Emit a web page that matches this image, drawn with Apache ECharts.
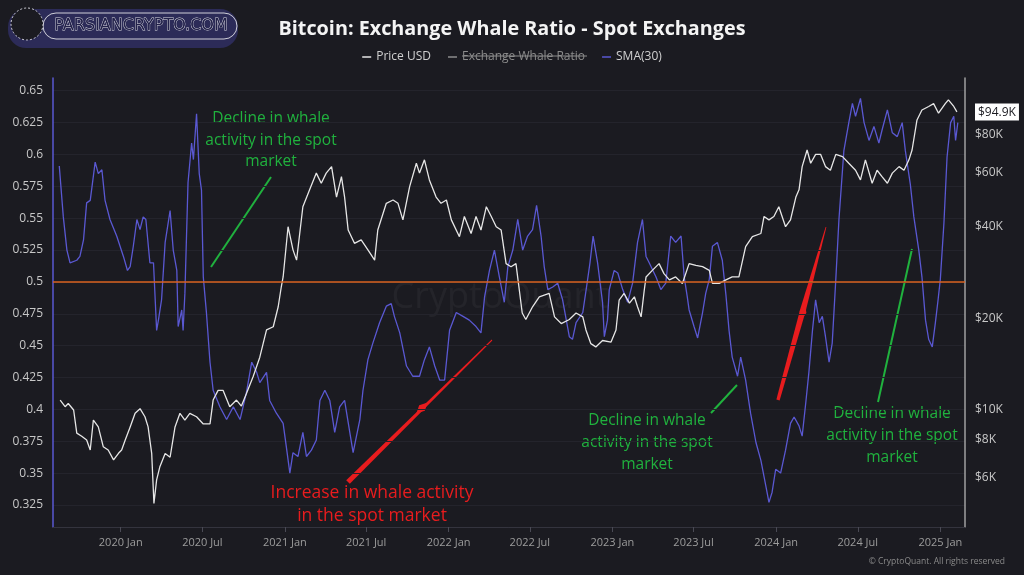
<!DOCTYPE html>
<html>
<head>
<meta charset="utf-8">
<title>Bitcoin: Exchange Whale Ratio - Spot Exchanges</title>
<script src="https://cdn.jsdelivr.net/npm/echarts@6/dist/echarts.min.js"></script>
<style>
  html, body { margin: 0; padding: 0; background: #1b1b21; }
  #chart { width: 1024px; height: 575px; }
</style>
</head>
<body>
<div id="chart"></div>
<script>
// Price USD (white line, right log axis)
const priceDates = [
  '2019-08-19','2019-08-30','2019-09-06','2019-09-18','2019-09-25','2019-10-06','2019-10-17','2019-10-25','2019-11-01','2019-11-12',
  '2019-11-23','2019-12-04','2019-12-16','2019-12-27','2020-01-03','2020-01-11','2020-01-22','2020-02-02','2020-02-13','2020-02-24',
  '2020-03-02','2020-03-10','2020-03-15','2020-03-21','2020-03-28','2020-04-09','2020-04-20','2020-05-01','2020-05-12','2020-05-23',
  '2020-06-03','2020-06-18','2020-07-03','2020-07-18','2020-07-25','2020-08-05','2020-08-16','2020-08-31','2020-09-15','2020-09-26',
  '2020-10-07','2020-10-22','2020-11-06','2020-11-21','2020-12-06','2020-12-17','2020-12-24','2020-12-28','2021-01-08','2021-01-19',
  '2021-01-27','2021-02-10','2021-02-25','2021-03-12','2021-03-23','2021-04-03','2021-04-15','2021-04-26','2021-05-07','2021-05-14',
  '2021-05-22','2021-06-05','2021-06-20','2021-07-05','2021-07-20','2021-07-27','2021-08-15','2021-08-30','2021-09-10','2021-09-21',
  '2021-10-06','2021-10-21','2021-10-28','2021-11-08','2021-11-19','2021-12-04','2021-12-15','2021-12-27','2022-01-07','2022-01-25',
  '2022-02-05','2022-02-20','2022-03-03','2022-03-14','2022-03-26','2022-04-06','2022-04-17','2022-04-28','2022-05-09','2022-05-20',
  '2022-05-31','2022-06-14','2022-06-22','2022-07-07','2022-07-22','2022-08-13','2022-08-25','2022-09-09','2022-09-27','2022-10-12',
  '2022-10-27','2022-11-03','2022-11-14','2022-11-25','2022-12-10','2022-12-29','2023-01-09','2023-01-16','2023-01-27','2023-02-08',
  '2023-02-19','2023-02-26','2023-03-06','2023-03-13','2023-03-17','2023-03-31','2023-04-15','2023-04-26','2023-05-08','2023-05-22',
  '2023-06-06','2023-06-21','2023-07-06','2023-07-21','2023-08-05','2023-08-12','2023-08-27','2023-09-11','2023-09-25','2023-10-10',
  '2023-10-25','2023-11-09','2023-11-28','2023-12-05','2023-12-16','2023-12-27','2024-01-07','2024-01-22','2024-02-02','2024-02-14',
  '2024-02-21','2024-02-28','2024-03-10','2024-03-18','2024-03-29','2024-04-09','2024-04-20','2024-05-01','2024-05-13','2024-05-28',
  '2024-06-11','2024-06-26','2024-07-07','2024-07-18','2024-08-02','2024-08-13','2024-08-24','2024-09-05','2024-09-16','2024-10-01',
  '2024-10-12','2024-10-23','2024-10-30','2024-11-10','2024-11-21','2024-12-06','2024-12-17','2024-12-28','2025-01-12','2025-01-19',
  '2025-01-31','2025-02-07'
];
const priceValues = [
  10780, 10250, 10500, 10000, 8400, 8200, 7970, 7390, 9270, 8800,
  7580, 7390, 6860, 7210, 7390, 7970, 8800, 9750, 10100, 9500,
  8800, 7210, 4940, 5900, 6500, 7200, 7000, 8800, 9750, 9270,
  9750, 9500, 9000, 9000, 10780, 11600, 11600, 10250, 10780, 10300,
  11300, 12850, 14900, 18300, 18750, 21800, 25400, 27300, 39900, 33500,
  31000, 46400, 52700, 59800, 55400, 59800, 62800, 49900, 58200, 49900,
  38900, 35200, 36100, 33500, 31000, 38900, 47600, 48800, 47600, 42000,
  54000, 64400, 59800, 66100, 56800, 49900, 47600, 48800, 42000, 37000,
  43100, 37900, 43100, 38900, 46400, 43100, 39900, 38900, 30200, 29500,
  30200, 20800, 19800, 21800, 23500, 24100, 20200, 19200, 19800, 20800,
  20200, 18300, 16500, 16100, 16900, 16700, 18300, 22900, 24100, 22400,
  23500, 21800, 20200, 24700, 27300, 28700, 30200, 28000, 26700, 27300,
  26000, 30200, 29800, 29500, 28700, 26000, 26000, 26700, 27300, 27300,
  34300, 37000, 37900, 43100, 42000, 43100, 46400, 39900, 42000, 49900,
  52700, 62800, 71200, 64400, 68900, 68900, 62800, 61100, 68900, 67700,
  64400, 61100, 56800, 66100, 55400, 61100, 58200, 55400, 59800, 62800,
  61100, 66100, 71200, 89300, 96300, 98900, 101000, 94000, 101000, 104000,
  98900, 94900
];

// SMA(30) of the exchange whale ratio (blue line, left axis)
const smaDates = [
  '2019-08-17','2019-08-26','2019-09-03','2019-09-10','2019-09-25','2019-10-02','2019-10-10','2019-10-17','2019-10-25','2019-11-05',
  '2019-11-12','2019-11-20','2019-11-27','2019-12-08','2019-12-23','2020-01-07','2020-01-16','2020-01-22','2020-01-29','2020-02-06',
  '2020-02-13','2020-02-20','2020-02-26','2020-03-06','2020-03-14','2020-03-21','2020-03-25','2020-04-01','2020-04-09','2020-04-20',
  '2020-04-27','2020-05-05','2020-05-08','2020-05-16','2020-05-19','2020-05-23','2020-05-30','2020-06-07','2020-06-11','2020-06-18',
  '2020-06-24','2020-06-29','2020-07-03','2020-07-10','2020-07-18','2020-07-25','2020-08-09','2020-08-24','2020-09-08','2020-09-23',
  '2020-10-07','2020-10-19','2020-10-30','2020-11-06','2020-11-21','2020-11-28','2020-12-13','2020-12-28','2021-01-04','2021-01-12',
  '2021-01-19','2021-01-30','2021-02-10','2021-02-18','2021-03-01','2021-03-12','2021-03-20','2021-03-31','2021-04-11','2021-04-22',
  '2021-05-03','2021-05-14','2021-06-02','2021-06-17','2021-06-24','2021-07-05','2021-07-16','2021-07-31','2021-08-15','2021-08-26',
  '2021-09-02','2021-09-14','2021-09-29','2021-10-13','2021-10-28','2021-11-08','2021-11-19','2021-12-01','2021-12-12','2021-12-23',
  '2022-01-03','2022-01-18','2022-02-02','2022-02-16','2022-03-03','2022-03-14','2022-03-22','2022-04-02','2022-04-13','2022-04-24',
  '2022-05-05','2022-05-13','2022-05-24','2022-06-04','2022-06-15','2022-06-26','2022-07-07','2022-07-16','2022-07-26','2022-08-02',
  '2022-08-10','2022-08-21','2022-09-01','2022-09-12','2022-09-27','2022-10-04','2022-10-12','2022-10-27','2022-11-06','2022-11-12',
  '2022-11-19','2022-11-29','2022-12-10','2022-12-14','2022-12-21','2022-12-25','2023-01-05','2023-01-13','2023-01-24','2023-02-04',
  '2023-02-15','2023-02-26','2023-03-09','2023-03-17','2023-03-24','2023-04-08','2023-04-19','2023-04-30','2023-05-11','2023-05-22',
  '2023-06-03','2023-06-10','2023-06-17','2023-06-21','2023-07-02','2023-07-10','2023-07-21','2023-07-28','2023-08-05','2023-08-12',
  '2023-08-23','2023-09-03','2023-09-11','2023-09-18','2023-09-25','2023-10-07','2023-10-14','2023-10-25','2023-11-05','2023-11-17',
  '2023-11-28','2023-12-09','2023-12-16','2023-12-23','2023-12-31','2024-01-11','2024-01-22','2024-02-02','2024-02-10','2024-02-21',
  '2024-02-28','2024-03-07','2024-03-14','2024-03-22','2024-03-29','2024-04-06','2024-04-13','2024-04-20','2024-04-28','2024-05-05',
  '2024-05-13','2024-05-20','2024-05-31','2024-06-11','2024-06-19','2024-06-26','2024-07-07','2024-07-15','2024-07-26','2024-08-06',
  '2024-08-17','2024-08-24','2024-09-05','2024-09-16','2024-09-27','2024-10-08','2024-10-15','2024-10-26','2024-11-03','2024-11-14',
  '2024-11-21','2024-11-29','2024-12-06','2024-12-14','2024-12-21','2024-12-27','2025-01-01','2025-01-09','2025-01-16','2025-01-24',
  '2025-01-31','2025-02-04','2025-02-09'
];
const smaValues = [
  0.591, 0.551, 0.525, 0.515, 0.517, 0.520, 0.533, 0.562, 0.564, 0.594,
  0.585, 0.588, 0.564, 0.549, 0.536, 0.520, 0.509, 0.512, 0.528, 0.549,
  0.541, 0.551, 0.549, 0.515, 0.515, 0.462, 0.470, 0.486, 0.531, 0.556,
  0.525, 0.509, 0.465, 0.478, 0.462, 0.491, 0.578, 0.609, 0.596, 0.632,
  0.585, 0.572, 0.504, 0.476, 0.437, 0.415, 0.402, 0.392, 0.402, 0.392,
  0.413, 0.437, 0.429, 0.421, 0.429, 0.407, 0.397, 0.389, 0.371, 0.350,
  0.366, 0.363, 0.382, 0.363, 0.368, 0.376, 0.407, 0.415, 0.407, 0.382,
  0.402, 0.407, 0.366, 0.392, 0.415, 0.439, 0.452, 0.468, 0.481, 0.483,
  0.473, 0.460, 0.434, 0.426, 0.426, 0.439, 0.449, 0.434, 0.423, 0.423,
  0.462, 0.476, 0.473, 0.470, 0.465, 0.460, 0.488, 0.509, 0.525, 0.504,
  0.484, 0.512, 0.525, 0.549, 0.525, 0.536, 0.541, 0.560, 0.536, 0.512,
  0.494, 0.496, 0.499, 0.486, 0.457, 0.455, 0.468, 0.476, 0.500, 0.515,
  0.536, 0.515, 0.484, 0.457, 0.470, 0.494, 0.509, 0.507, 0.494, 0.484,
  0.499, 0.531, 0.549, 0.520, 0.515, 0.504, 0.494, 0.499, 0.536, 0.531,
  0.536, 0.504, 0.488, 0.478, 0.465, 0.456, 0.476, 0.491, 0.502, 0.528,
  0.531, 0.517, 0.490, 0.462, 0.441, 0.426, 0.441, 0.423, 0.397, 0.374,
  0.360, 0.340, 0.327, 0.335, 0.353, 0.350, 0.368, 0.389, 0.394, 0.387,
  0.379, 0.405, 0.429, 0.462, 0.486, 0.468, 0.473, 0.457, 0.437, 0.452,
  0.502, 0.549, 0.603, 0.625, 0.640, 0.630, 0.644, 0.625, 0.611, 0.622,
  0.609, 0.619, 0.635, 0.617, 0.614, 0.625, 0.603, 0.577, 0.551, 0.525,
  0.504, 0.470, 0.455, 0.449, 0.468, 0.486, 0.502, 0.546, 0.598, 0.625,
  0.630, 0.611, 0.625
];

const ratioTicks = [0.325, 0.35, 0.375, 0.4, 0.425, 0.45, 0.475, 0.5, 0.525, 0.55, 0.575, 0.6, 0.625, 0.65];
const priceTicks = [6000, 8000, 10000, 20000, 40000, 60000, 80000];
const lastPrice = 94900;
const timeTicks = ['2020-01-01','2020-07-01','2021-01-01','2021-07-01','2022-01-01','2022-07-01',
                   '2023-01-01','2023-07-01','2024-01-01','2024-07-01','2025-01-01'];
const baseline = 0.5;

const FONT = '"Open Sans", "Noto Sans", sans-serif';
const GREEN = '#20b23e';
const RED = '#e81c1e';

const chart = echarts.init(document.getElementById('chart'), null, { renderer: 'canvas' });

// dates go on a plain value axis as UTC timestamps
const ts = s => Date.parse(s + 'T00:00:00Z');
const zip = (xs, ys) => xs.map((x, i) => [ts(x), ys[i]]);
const timeTickValues = timeTicks.map(ts);
const MONTHS = ['Jan', 'Feb', 'Mar', 'Apr', 'May', 'Jun', 'Jul', 'Aug', 'Sep', 'Oct', 'Nov', 'Dec'];

const note = (x, y, text, lineHeight, size, color) => ({
  type: 'text', x: x, y: y, silent: true,
  style: { text: text, textAlign: 'center', lineHeight: lineHeight, font: size + 'px ' + FONT, fill: color }
});

const option = {
  backgroundColor: '#1b1b21',
  animation: false,
  textStyle: { fontFamily: FONT },
  title: {
    text: 'Bitcoin: Exchange Whale Ratio - Spot Exchanges',
    left: 'center',
    top: 14,
    textStyle: { color: '#f4f4f4', fontSize: 19.8, fontWeight: 'bold', fontFamily: FONT }
  },
  legend: {
    top: 46,
    left: 'center',
    data: ['Price USD', 'Exchange Whale Ratio', 'SMA(30)'],
    selected: { 'Exchange Whale Ratio': false },
    icon: 'rect',
    itemWidth: 9,
    itemHeight: 1.5,
    itemGap: 17,
    inactiveColor: '#8c8c8c',
    textStyle: { color: '#d0d0d0', fontSize: 12, fontFamily: FONT }
  },
  grid: { left: 53, right: 59, top: 78, bottom: 48 },
  xAxis: {
    type: 'value',
    min: ts('2019-08-03'),
    max: ts('2025-02-25'),
    axisLine: { lineStyle: { color: '#34343e', width: 1 } },
    axisTick: { show: true, length: 5, lineStyle: { color: '#4a4a55' }, customValues: timeTickValues },
    axisLabel: {
      customValues: timeTickValues,
      color: '#9c9c9c',
      fontSize: 11,
      margin: 10,
      formatter: function (v) {
        const d = new Date(v);
        return d.getUTCFullYear() + ' ' + MONTHS[d.getUTCMonth()];
      }
    },
    splitLine: { show: false }
  },
  yAxis: [
    {
      type: 'value',
      position: 'left',
      min: 0.3077,
      max: 0.66,
      axisLine: { show: true, lineStyle: { color: '#5a58d2', width: 1.5 } },
      axisTick: { show: false, customValues: ratioTicks },
      axisLabel: {
        customValues: ratioTicks,
        color: '#c8c8c8',
        fontSize: 12,
        margin: 10,
        formatter: v => String(v)
      },
      splitLine: { show: true, lineStyle: { color: '#24242c', width: 1 } }
    },
    {
      type: 'log',
      position: 'right',
      min: 4134,
      max: 122600,
      axisLine: { show: true, lineStyle: { color: '#a0a0a0', width: 1.5 } },
      axisTick: { show: false, customValues: priceTicks.concat([lastPrice]) },
      axisLabel: {
        customValues: priceTicks.concat([lastPrice]),
        color: '#c8c8c8',
        fontSize: 12,
        margin: 10,
        formatter: v => Math.abs(v - lastPrice) < 1
          ? '{hl|$' + (lastPrice / 1000).toFixed(1) + 'K}'
          : '$' + Math.round(v / 1000) + 'K',
        rich: {
          hl: { backgroundColor: '#ffffff', color: '#1b1b21', fontSize: 12, padding: [3, 3, 2, 3], fontFamily: FONT }
        }
      },
      splitLine: { show: false }
    }
  ],
  series: [
    {
      name: 'SMA(30)',
      type: 'line',
      yAxisIndex: 0,
      showSymbol: false,
      color: '#5a58d2',
      lineStyle: { color: '#5a58d2', width: 1.3 },
      data: zip(smaDates, smaValues),
      z: 2,
      markLine: {
        silent: true,
        symbol: 'none',
        label: { show: false },
        lineStyle: { color: '#d8621f', width: 1.6, type: 'solid' },
        data: [{ yAxis: baseline }]
      }
    },
    {
      name: 'Exchange Whale Ratio',
      type: 'line',
      yAxisIndex: 0,
      showSymbol: false,
      color: '#8c8c8c',
      data: []
    },
    {
      name: 'Price USD',
      type: 'line',
      yAxisIndex: 1,
      showSymbol: false,
      color: '#e6e6e6',
      lineStyle: { color: '#e6e6e6', width: 1.3 },
      data: zip(priceDates, priceValues),
      z: 3
    }
  ],
  graphic: [
    // site logo, top left
    { type: 'rect', shape: { x: 8, y: 9, width: 230, height: 39, r: 18 }, style: { fill: '#2c2b58' }, silent: true },
    { type: 'rect', shape: { x: 43, y: 13, width: 194, height: 26, r: 13 }, style: { fill: 'none', stroke: '#cfcfd8', lineWidth: 1 }, silent: true },
    { type: 'circle', shape: { cx: 27, cy: 24, r: 16 }, style: { fill: '#1b1b21', stroke: '#cfcfd8', lineWidth: 1, lineDash: [2, 2] }, silent: true },
    { type: 'text', x: 141, y: 26, silent: true,
      style: { text: 'PARSIANCRYPTO.COM', textAlign: 'center', textVerticalAlign: 'middle',
               font: '16px "DejaVu Sans", sans-serif', fill: '#23224a', stroke: '#d8d8e0', lineWidth: 0.8 } },
    // faint watermark
    { type: 'text', x: 500, y: 298, silent: true, z: -1,
      style: { text: 'CryptoQuant', textAlign: 'center', textVerticalAlign: 'middle',
               font: '36px ' + FONT, fill: 'rgba(255,255,255,0.045)' } },
    // strike-through on the disabled legend entry
    { type: 'line', shape: { x1: 462, y1: 56, x2: 587, y2: 56 }, style: { stroke: '#8c8c8c', lineWidth: 1 }, silent: true },
    // green notes and their pointers
    note(271, 108, 'Decline in whale\nactivity in the spot\nmarket', 21.5, 15.5, GREEN),
    { type: 'line', shape: { x1: 211, y1: 267, x2: 271, y2: 177 }, style: { stroke: GREEN, lineWidth: 2 }, silent: true },
    note(647, 410, 'Decline in whale\nactivity in the spot\nmarket', 22, 15.5, GREEN),
    { type: 'line', shape: { x1: 711, y1: 413, x2: 737, y2: 385 }, style: { stroke: GREEN, lineWidth: 2 }, silent: true },
    note(892, 403, 'Decline in whale\nactivity in the spot\nmarket', 22, 15.5, GREEN),
    { type: 'line', shape: { x1: 878, y1: 402, x2: 912, y2: 249 }, style: { stroke: GREEN, lineWidth: 2 }, silent: true },
    // red note and the two hand-drawn arrows
    note(372, 482, 'Increase in whale activity\nin the spot market', 23, 17.5, RED),
    { type: 'polygon', silent: true, style: { fill: RED },
      shape: { points: [[346.2, 480.2], [491.7, 339.6], [492.3, 340.4], [349.8, 483.8]] } },
    { type: 'polygon', silent: true, style: { fill: RED },
      shape: { points: [[416.3, 413.6], [424.8, 410.8], [427.7, 402.4], [419.2, 405.2]] } },
    { type: 'polygon', silent: true, style: { fill: RED },
      shape: { points: [[776.4, 399.6], [800.2, 309.2], [825.6, 226.9], [826.4, 227.1], [805.8, 310.8], [779.6, 400.4]] } },
    { type: 'polygon', silent: true, style: { fill: RED },
      shape: { points: [[801.1, 319.7], [806.4, 313.0], [805.2, 304.3], [799.6, 311.0]] } },
    // footer
    { type: 'text', x: 1005, y: 562, silent: true,
      style: { text: '\u00a9 CryptoQuant. All rights reserved', textAlign: 'right', textVerticalAlign: 'middle',
               font: '8.5px ' + FONT, fill: '#8a8a8a' } }
  ]
};

chart.setOption(option);
window.addEventListener('resize', () => chart.resize());
</script>
</body>
</html>
